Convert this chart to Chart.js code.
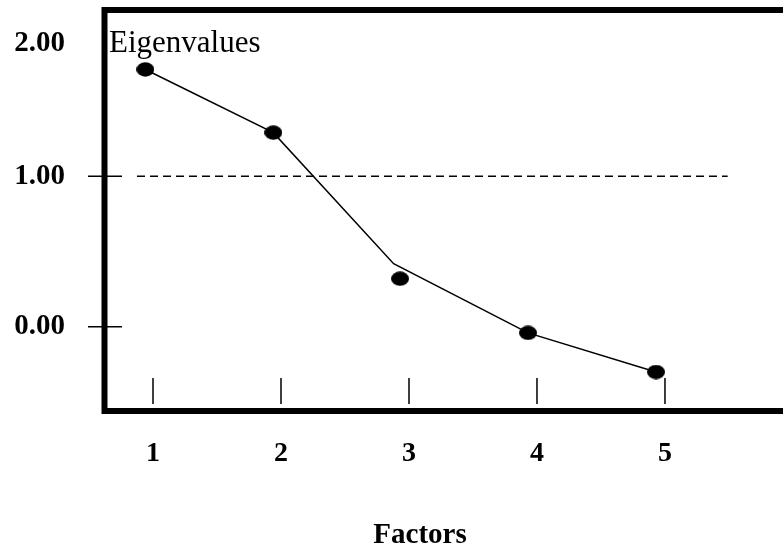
<!DOCTYPE html>
<html><head><meta charset="utf-8">
<script src="https://cdn.jsdelivr.net/npm/chart.js@4/dist/chart.umd.min.js"></script>
<style>html,body{margin:0;padding:0;background:#fff}#wrap{width:783px;height:546px;position:relative}</style>
</head><body><div id="wrap"><canvas id="c" width="783" height="546"></canvas></div>
<script>
// ---- data ----
const factorTicks = [1, 2, 3, 4, 5];
const factorLabels = ['1', '2', '3', '4', '5'];
const yTickValues = [0, 1, 2];
const yTickLabels = ['0.00', '1.00', '2.00'];
const yTickMarkValues = [0, 1];
const markerX = [0.94, 1.94, 2.93, 3.93, 4.93];
const markerY = [1.71, 1.29, 0.32, -0.04, -0.30];
const lineX = [0.94, 1.94, 2.88, 3.93, 4.93];
const lineY = [1.71, 1.29, 0.42, -0.04, -0.30];
const refX = [0.875, 5.49];
const refY = [1, 1];
const seriesTitle = 'Eigenvalues';
const xTitle = 'Factors';

// ---- styling ----
const SERIF = "'Liberation Serif', 'Times New Roman', serif";
const dot = document.createElement('canvas');
dot.width = 18; dot.height = 15;
(function () {
  const g = dot.getContext('2d');
  g.fillStyle = '#000';
  g.beginPath();
  g.ellipse(9, 7.5, 9, 7.2, 0, 0, Math.PI * 2);
  g.fill();
})();

const pts = (xs, ys) => xs.map((v, i) => ({ x: v, y: ys[i] }));

const framePlugin = {
  id: 'frame',
  beforeDatasetsDraw(chart) {
    const { ctx, chartArea: a, scales: { x, y } } = chart;
    ctx.save();
    ctx.strokeStyle = '#000';
    ctx.lineWidth = 6;
    ctx.lineJoin = 'miter';
    ctx.beginPath();
    ctx.moveTo(chart.width, a.top);
    ctx.lineTo(a.left, a.top);
    ctx.lineTo(a.left, a.bottom);
    ctx.lineTo(chart.width, a.bottom);
    ctx.stroke();
    ctx.lineWidth = 1.5;
    ctx.beginPath();
    yTickMarkValues.forEach(v => {
      const py = y.getPixelForValue(v);
      ctx.moveTo(a.left - 16.5, py);
      ctx.lineTo(a.left + 17.5, py);
    });
    factorTicks.forEach(v => {
      const px = x.getPixelForValue(v);
      ctx.moveTo(px, a.bottom - 33);
      ctx.lineTo(px, a.bottom - 7);
    });
    ctx.stroke();
    ctx.fillStyle = '#000';
    ctx.font = '31px ' + SERIF;
    ctx.textAlign = 'left';
    ctx.textBaseline = 'alphabetic';
    ctx.fillText(seriesTitle, a.left + 4.5, a.top + 42);
    ctx.restore();
  }
};

new Chart(document.getElementById('c'), {
  type: 'scatter',
  data: {
    datasets: [
      { data: pts(refX, refY), showLine: true, borderColor: '#000', borderWidth: 1.5,
        borderDash: [8, 5], pointRadius: 0, fill: false },
      { data: pts(lineX, lineY), showLine: true, borderColor: '#000', borderWidth: 1.5,
        pointRadius: 0, tension: 0, fill: false },
      { data: pts(markerX, markerY), showLine: false, pointStyle: dot, pointRadius: 9,
        backgroundColor: '#000', borderColor: '#000' }
    ]
  },
  options: {
    responsive: false,
    animation: false,
    events: [],
    layout: { padding: { top: 6, right: 47.5, bottom: 0, left: 0 } },
    plugins: { legend: { display: false }, tooltip: { enabled: false }, title: { display: false } },
    scales: {
      x: {
        type: 'linear', min: 0.621, max: 5.551,
        afterBuildTicks: s => { s.ticks = factorTicks.map(v => ({ value: v })); },
        afterFit: s => { s.height = 135; s.paddingLeft = 0; s.paddingRight = 0; },
        grid: { display: false, drawTicks: false },
        border: { display: false },
        ticks: {
          color: '#000', padding: 26,
          font: { family: SERIF, size: 28, weight: 'bold' },
          callback: v => factorLabels[factorTicks.indexOf(v)]
        },
        title: {
          display: true, text: xTitle, color: '#000',
          font: { family: SERIF, size: 29, weight: 'bold', lineHeight: 0.7 },
          padding: 0
        }
      },
      y: {
        type: 'linear', min: -0.559, max: 2.105,
        afterBuildTicks: s => { s.ticks = yTickValues.map(v => ({ value: v })); },
        afterFit: s => { s.width = 104.5; s.paddingTop = 0; s.paddingBottom = 0; },
        grid: { display: false, drawTicks: false },
        border: { display: false },
        ticks: {
          color: '#000', padding: 39.5,
          font: { family: SERIF, size: 29, weight: 'bold' },
          // the top label sits a little below its tick in the source, so it takes a second line
          callback: v => {
            const t = yTickLabels[yTickValues.indexOf(v)];
            return v === Math.max(...yTickValues) ? ['', t] : t;
          }
        }
      }
    }
  },
  plugins: [framePlugin]
});
</script>
</body></html>
